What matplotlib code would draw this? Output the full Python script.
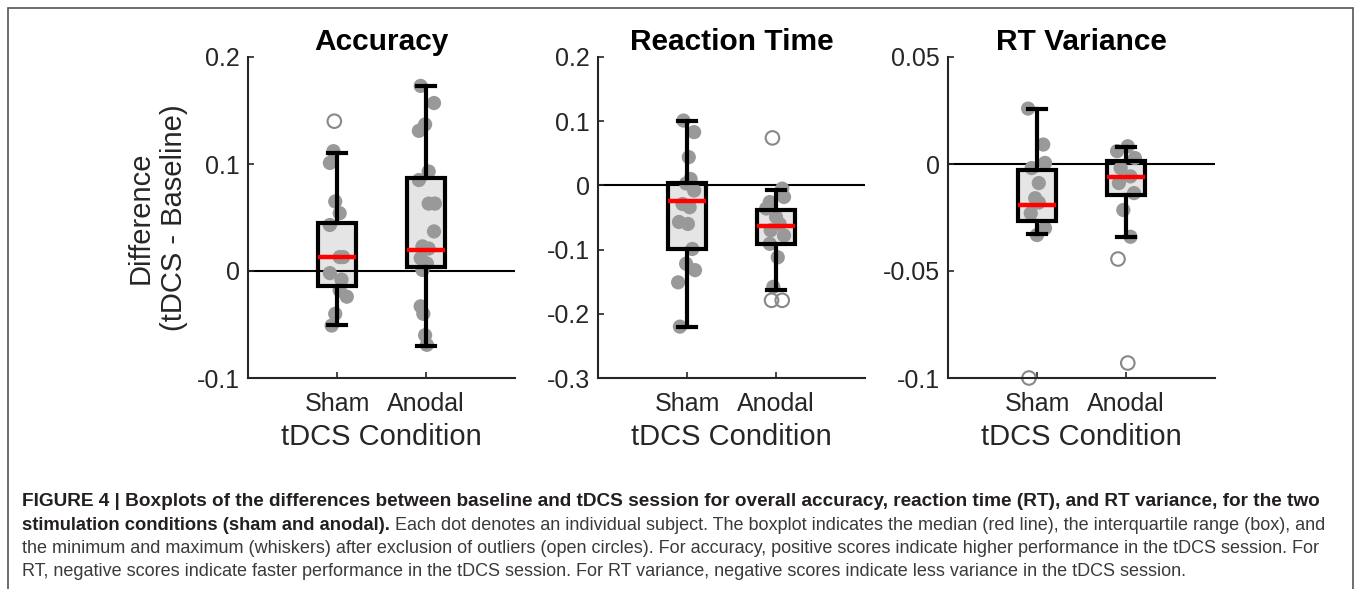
import numpy as np
import matplotlib.pyplot as plt
from matplotlib.patches import Rectangle

plt.rcParams['font.family'] = ['Liberation Sans', 'DejaVu Sans']

groups = ['Sham', 'Anodal']
titles = ['Accuracy', 'Reaction Time', 'RT Variance']

# Accuracy
acc_sham = [0.112, 0.101, 0.065, 0.054, 0.043, 0.013, 0.013, -0.002, -0.008, -0.018, -0.024, -0.040, -0.051]
acc_sham_jit = [-0.04, -0.08, -0.02, 0.03, -0.08, 0.03, 0.07, -0.08, 0.05, 0.03, 0.11, -0.02, -0.06]
acc_sham_out = [0.14]
acc_sham_out_jit = [-0.03]
acc_anod = [0.173, 0.157, 0.137, 0.131, 0.093, 0.085, 0.063, 0.063, 0.037, 0.023, 0.021, 0.012, 0.007, 0.001,
            -0.033, -0.040, -0.060, -0.069]
acc_anod_jit = [-0.06, 0.09, -0.01, -0.08, 0.03, -0.08, 0.03, 0.10, 0.09, -0.04, 0.03, -0.06, 0.01, -0.04,
                -0.06, -0.03, -0.01, 0.01]
acc_anod_out = []
acc_anod_out_jit = []
# q1, median, q3, whisker low, whisker high
acc_box_sham = [-0.0138, 0.0128, 0.0447, -0.050, 0.110]
acc_box_anod = [0.0034, 0.0197, 0.0869, -0.070, 0.173]

# Reaction time
rt_sham = [0.101, 0.083, 0.044, 0.010, 0.003, -0.008, -0.029, -0.034, -0.057, -0.060, -0.099, -0.122, -0.132,
           -0.151, -0.220]
rt_sham_jit = [-0.04, 0.08, 0.02, 0.04, -0.01, 0.08, -0.05, 0.03, -0.09, 0.01, 0.06, -0.01, 0.09, -0.10, -0.08]
rt_sham_out = []
rt_sham_out_jit = []
rt_anod = [-0.005, -0.018, -0.026, -0.036, -0.049, -0.060, -0.070, -0.078, -0.091, -0.112, -0.158]
rt_anod_jit = [0.07, 0.09, -0.07, -0.11, 0.0, 0.04, -0.06, 0.09, -0.07, 0.02, -0.03]
rt_anod_out = [0.074, -0.179, -0.179]
rt_anod_out_jit = [-0.04, -0.05, 0.07]
rt_box_sham = [-0.0997, -0.024, 0.0036, -0.220, 0.100]
rt_box_anod = [-0.091, -0.063, -0.039, -0.163, -0.007]

# RT variance
var_sham = [0.0259, 0.0091, 0.0005, -0.0019, -0.0089, -0.016, -0.018, -0.023, -0.030, -0.0332]
var_sham_jit = [-0.10, 0.07, 0.09, -0.06, 0.02, -0.02, 0.02, -0.07, 0.09, 0.0]
var_sham_out = [-0.100]
var_sham_out_jit = [-0.09]
var_anod = [0.0083, 0.006, 0.0028, -0.0019, -0.0058, -0.0089, -0.0136, -0.0215, -0.034]
var_anod_jit = [0.02, -0.10, 0.10, -0.06, 0.05, -0.08, 0.09, -0.03, 0.05]
var_anod_out = [-0.0444, -0.093]
var_anod_out_jit = [-0.09, 0.02]
var_box_sham = [-0.0266, -0.0191, -0.0027, -0.0329, 0.0259]
var_box_anod = [-0.0144, -0.0061, 0.0013, -0.034, 0.0078]

ylims = [(-0.1, 0.2), (-0.3, 0.2), (-0.1, 0.05)]
yticks = [[-0.1, 0, 0.1, 0.2], [-0.3, -0.2, -0.1, 0, 0.1, 0.2], [-0.1, -0.05, 0, 0.05]]
yticklabels = [['-0.1', '0', '0.1', '0.2'], ['-0.3', '-0.2', '-0.1', '0', '0.1', '0.2'],
               ['-0.1', '-0.05', '0', '0.05']]

panels = [
    ((acc_sham, acc_sham_jit, acc_sham_out, acc_sham_out_jit, acc_box_sham),
     (acc_anod, acc_anod_jit, acc_anod_out, acc_anod_out_jit, acc_box_anod)),
    ((rt_sham, rt_sham_jit, rt_sham_out, rt_sham_out_jit, rt_box_sham),
     (rt_anod, rt_anod_jit, rt_anod_out, rt_anod_out_jit, rt_box_anod)),
    ((var_sham, var_sham_jit, var_sham_out, var_sham_out_jit, var_box_sham),
     (var_anod, var_anod_jit, var_anod_out, var_anod_out_jit, var_box_anod)),
]

W, H = 1357, 589
fig = plt.figure(figsize=(W / 100, H / 100), dpi=100)

# outer frame
fig.add_artist(Rectangle((8 / W, -0.01), (1353 - 8) / W, 1.01 - 8 / H, transform=fig.transFigure,
                         fill=False, edgecolor='#555555', linewidth=1.2))

lefts = [248, 598, 948]
for i, left in enumerate(lefts):
    ax = fig.add_axes([left / W, 1 - 378 / H, 267 / W, 321 / H])
    pos = [1, 2]
    stats = []
    for p, g in zip(pos, panels[i]):
        q1, med, q3, lo, hi = g[4]
        stats.append(dict(q1=q1, med=med, q3=q3, whislo=lo, whishi=hi, fliers=[], label=''))
    # box fill below dots
    ax.bxp(stats, positions=pos, widths=0.42, patch_artist=True, showcaps=False,
           boxprops=dict(facecolor='#e5e5e5', edgecolor='none'),
           whiskerprops=dict(linewidth=0), medianprops=dict(linewidth=0), zorder=1)
    ax.axhline(0, color='black', linewidth=1.5, zorder=1.5)
    for p, g in zip(pos, panels[i]):
        vals, jit, outs, ojit, _ = g
        ax.scatter(np.array(jit) + p, vals, s=105, color='#999999', edgecolor='none', zorder=2)
        if outs:
            ax.scatter(np.array(ojit) + p, outs, s=95, facecolor='none', edgecolor='#888888',
                       linewidth=1.5, zorder=2, clip_on=False)
    ax.bxp(stats, positions=pos, widths=0.42, patch_artist=True, showcaps=True, capwidths=0.2,
           boxprops=dict(facecolor='none', edgecolor='black', linewidth=3),
           whiskerprops=dict(color='black', linewidth=3), capprops=dict(color='black', linewidth=3),
           medianprops=dict(color='red', linewidth=3.2), zorder=3)

    ax.set_xlim(0, 3)
    ax.set_ylim(*ylims[i])
    ax.set_xticks(pos)
    ax.set_xticklabels(groups)
    ax.set_yticks(yticks[i])
    ax.set_yticklabels(yticklabels[i])
    for s in ['top', 'right']:
        ax.spines[s].set_visible(False)
    for s in ['left', 'bottom']:
        ax.spines[s].set_linewidth(1.5)
        ax.spines[s].set_color('#262626')
    ax.tick_params(direction='in', length=4, width=1.2, colors='#262626', labelsize=18, pad=6)
    ax.tick_params(axis='x', pad=10)
    ax.set_title(titles[i], fontsize=21.5, fontweight='bold', pad=5)
    ax.set_xlabel('tDCS Condition', fontsize=21, color='#262626', labelpad=5)
    if i == 0:
        ax.set_ylabel('Difference\n(tDCS - Baseline)', fontsize=21, color='#262626', labelpad=6,
                      linespacing=1.25)

# caption
cap_font = ['Liberation Sans', 'DejaVu Sans']
bold_size = 13.7
reg_size = 12.95
x0 = 22 / W
bold_l1 = ('FIGURE 4 | Boxplots of the differences between baseline and tDCS session for overall accuracy, '
           'reaction time (RT), and RT variance, for the two')
bold_l2 = 'stimulation conditions (sham and anodal).'
reg_l2 = (' Each dot denotes an individual subject. The boxplot indicates the median (red line), '
          'the interquartile range (box), and')
reg_l3 = ('the minimum and maximum (whiskers) after exclusion of outliers (open circles). For accuracy, '
          'positive scores indicate higher performance in the tDCS session. For')
reg_l4 = ('RT, negative scores indicate faster performance in the tDCS session. For RT variance, '
          'negative scores indicate less variance in the tDCS session.')
base = [506, 529.5, 553, 576.5]
fig.text(x0, 1 - base[0] / H, bold_l1, family=cap_font, fontsize=bold_size, fontweight='bold',
         color='#231f20', va='baseline')
t2 = fig.text(x0, 1 - base[1] / H, bold_l2, family=cap_font, fontsize=13.2, fontweight='bold',
              color='#231f20', va='baseline')
fig.canvas.draw()
bb = t2.get_window_extent()
fig.text(bb.x1 / W, 1 - base[1] / H, reg_l2, family=cap_font, fontsize=reg_size,
         color='#3a3a3a', va='baseline')
fig.text(x0, 1 - base[2] / H, reg_l3, family=cap_font, fontsize=reg_size, color='#3a3a3a', va='baseline')
fig.text(x0, 1 - base[3] / H, reg_l4, family=cap_font, fontsize=reg_size, color='#3a3a3a', va='baseline')

fig.savefig('out.png', dpi=100)
